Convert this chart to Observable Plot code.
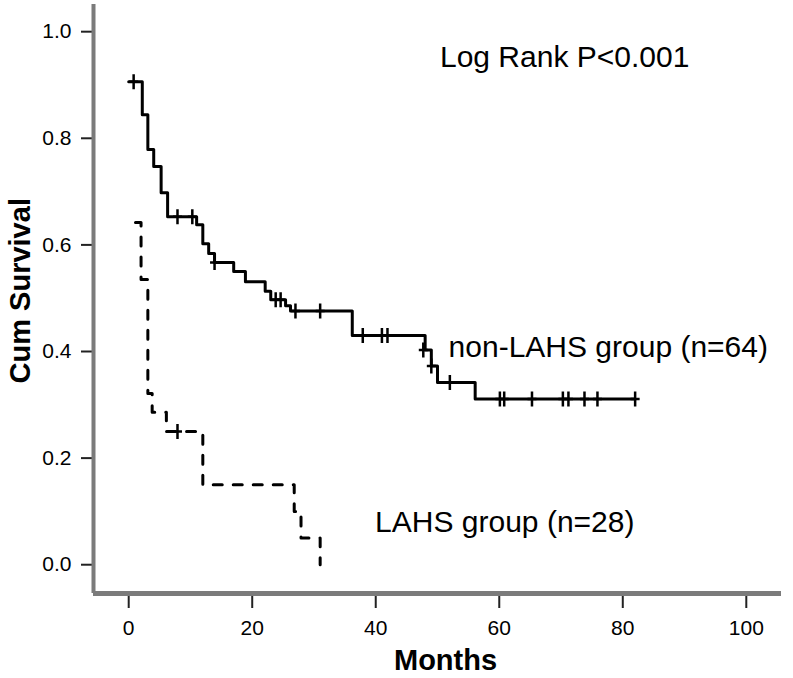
<!DOCTYPE html>
<html>
<head>
<meta charset="utf-8">
<script src="https://cdn.jsdelivr.net/npm/d3@7"></script>
<script src="https://cdn.jsdelivr.net/npm/@observablehq/plot@0.6"></script>
<style>
  html, body { margin: 0; padding: 0; background: #fff; }
  #chart { width: 793px; height: 678px; }
</style>
</head>
<body>
<div id="chart"></div>
<script>
// Non-LAHS group (n=64): step times (months) and cumulative survival
const nonLahsTime = [0, 2.2, 3.1, 4.05, 5.25, 6.3, 11.0, 12.0, 12.95, 13.9, 17.0, 18.9, 22.1, 23.0, 25.4, 26.2, 36.2, 48.0, 49.0, 50.0, 56.1, 82.0];
const nonLahsSurv = [0.906, 0.844, 0.779, 0.747, 0.698, 0.653, 0.638, 0.602, 0.584, 0.567, 0.550, 0.531, 0.513, 0.497, 0.486, 0.476, 0.430, 0.403, 0.373, 0.342, 0.311, 0.311];
// Non-LAHS censored observations
const nonLahsCensTime = [0.8, 7.9, 10.3, 13.9, 23.8, 24.6, 27.0, 31.0, 37.9, 41.0, 41.9, 47.7, 49.0, 52.0, 60.1, 60.8, 65.3, 70.3, 71.2, 73.8, 75.9, 82.0];
const nonLahsCensSurv = [0.906, 0.653, 0.653, 0.567, 0.497, 0.497, 0.476, 0.476, 0.430, 0.430, 0.430, 0.403, 0.373, 0.342, 0.311, 0.311, 0.311, 0.311, 0.311, 0.311, 0.311, 0.311];

// LAHS group (n=28)
const lahsTime = [1.1, 2.0, 3.1, 3.8, 6.1, 12.0, 26.8, 27.9, 31.0];
const lahsSurv = [0.642, 0.535, 0.321, 0.286, 0.250, 0.150, 0.100, 0.050, 0.000];
const lahsCensTime = [7.9];
const lahsCensSurv = [0.250];

// Axis ticks
const xTicks = [0, 20, 40, 60, 80, 100];
const yTicks = [0, 0.2, 0.4, 0.6, 0.8, 1.0];

// Texts
const annotationTexts = ["Log Rank P<0.001", "non-LAHS group (n=64)", "LAHS group (n=28)"];
const xTitle = "Months";
const yTitle = "Cum Survival";

const nonLahs = nonLahsTime.map((t, i) => ({t, s: nonLahsSurv[i]}));
const nonLahsCens = nonLahsCensTime.map((t, i) => ({t, s: nonLahsCensSurv[i]}));
const lahs = lahsTime.map((t, i) => ({t, s: lahsSurv[i]}));
const lahsCens = lahsCensTime.map((t, i) => ({t, s: lahsCensSurv[i]}));

const xDomain = [-5.7, 105.7];
const yDomain = [-0.054, 1.051];

const plusSymbol = {
  draw(ctx, size) {
    const r = Math.sqrt(size / Math.PI);
    ctx.moveTo(-r * 0.6, 0); ctx.lineTo(r * 0.6, 0);
    ctx.moveTo(0, -r); ctx.lineTo(0, r);
  }
};

const font = "'Liberation Sans', Arial, Helvetica, sans-serif";

const chart = Plot.plot({
  width: 793,
  height: 678,
  marginLeft: 93,
  marginRight: 12,
  marginTop: 4,
  marginBottom: 85,
  style: { fontFamily: font, fontSize: "22px", color: "#000", background: "#fff" },
  x: { domain: xDomain },
  y: { domain: yDomain },
  marks: [
    // tick marks only; labels drawn as text marks below
    Plot.axisY({ ticks: yTicks, tickFormat: () => "", tickSize: 12, strokeWidth: 2, stroke: "#222", label: null }),
    Plot.axisX({ ticks: xTicks, tickFormat: () => "", tickSize: 15, strokeWidth: 2, stroke: "#222", label: null }),
    Plot.text(yTicks, { x: xDomain[0], y: d => d, text: d3.format(".1f"), textAnchor: "end", lineAnchor: "middle", dx: -22, fontSize: 21, fill: "#000" }),
    Plot.text(xTicks, { x: d => d, y: yDomain[0], text: d3.format("d"), textAnchor: "middle", lineAnchor: "top", dy: 27, fontSize: 21, fill: "#000" }),
    Plot.ruleX([xDomain[0]], { stroke: "#7b7b7b", strokeWidth: 4 }),
    Plot.ruleY([yDomain[0]], { stroke: "#7b7b7b", strokeWidth: 5 }),
    Plot.line(nonLahs, { x: "t", y: "s", curve: "step-after", stroke: "#000", strokeWidth: 3 }),
    Plot.dot(nonLahsCens, { x: "t", y: "s", symbol: plusSymbol, r: 7.5, stroke: "#000", strokeWidth: 2.5, fill: "none" }),
    Plot.line(lahs, { x: "t", y: "s", curve: "step-after", stroke: "#000", strokeWidth: 3, strokeDasharray: "9,11" }),
    Plot.dot(lahsCens, { x: "t", y: "s", symbol: plusSymbol, r: 7.5, stroke: "#000", strokeWidth: 2.5, fill: "none" }),
    Plot.text([annotationTexts[0]], { x: 50.4, y: 0.933, text: d => d, textAnchor: "start", lineAnchor: "bottom", fontSize: 30, fill: "#000" }),
    Plot.text([annotationTexts[1]], { x: 51.8, y: 0.390, text: d => d, textAnchor: "start", lineAnchor: "bottom", fontSize: 30, fill: "#000" }),
    Plot.text([annotationTexts[2]], { x: 39.9, y: 0.062, text: d => d, textAnchor: "start", lineAnchor: "bottom", fontSize: 30, fill: "#000" }),
    Plot.text([xTitle], { x: 51.3, y: -0.197, text: d => d, textAnchor: "middle", lineAnchor: "bottom", fontSize: 29, fontWeight: "bold", fill: "#000" }),
    Plot.text([yTitle], { x: -17.5, y: 0.514, text: d => d, textAnchor: "middle", lineAnchor: "middle", rotate: -90, fontSize: 29, fontWeight: "bold", fill: "#000" })
  ]
});

document.getElementById("chart").appendChild(chart);
</script>
</body>
</html>
